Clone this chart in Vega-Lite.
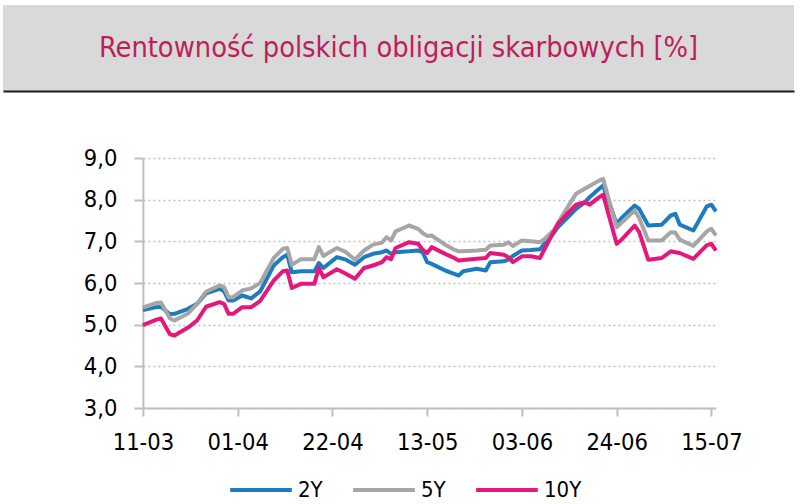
{
  "$schema": "https://vega.github.io/schema/vega-lite/v6.json",
  "padding": {"left": 3, "top": 5, "right": 5, "bottom": 5},
  "background": "white",
  "spacing": 55,
  "center": true,
  "config": {
    "view": {"stroke": null},
    "font": "DejaVu Sans Condensed",
    "legend": {"layout": {"bottom": {"anchor": "middle"}}}
  },
  "datasets": {
    "title": [{"t": "Rentowność polskich obligacji skarbowych [%]"}],
    "yields": [
      {"d": "2022-03-11", "2Y": 5.35, "5Y": 5.41, "10Y": 4.99},
      {"d": "2022-03-14", "2Y": 5.42, "5Y": 5.52, "10Y": 5.12},
      {"d": "2022-03-15", "2Y": 5.43, "5Y": 5.53, "10Y": 5.15},
      {"d": "2022-03-17", "2Y": 5.25, "5Y": 5.15, "10Y": 4.77},
      {"d": "2022-03-18", "2Y": 5.26, "5Y": 5.10, "10Y": 4.74},
      {"d": "2022-03-21", "2Y": 5.38, "5Y": 5.27, "10Y": 4.93},
      {"d": "2022-03-23", "2Y": 5.50, "5Y": 5.50, "10Y": 5.10},
      {"d": "2022-03-25", "2Y": 5.75, "5Y": 5.79, "10Y": 5.43},
      {"d": "2022-03-28", "2Y": 5.86, "5Y": 5.94, "10Y": 5.54},
      {"d": "2022-03-29", "2Y": 5.80, "5Y": 5.90, "10Y": 5.50},
      {"d": "2022-03-30", "2Y": 5.58, "5Y": 5.66, "10Y": 5.26},
      {"d": "2022-03-31", "2Y": 5.58, "5Y": 5.66, "10Y": 5.26},
      {"d": "2022-04-02", "2Y": 5.70, "5Y": 5.82, "10Y": 5.42},
      {"d": "2022-04-04", "2Y": 5.63, "5Y": 5.87, "10Y": 5.42},
      {"d": "2022-04-06", "2Y": 5.80, "5Y": 6.00, "10Y": 5.57},
      {"d": "2022-04-09", "2Y": 6.42, "5Y": 6.60, "10Y": 6.06},
      {"d": "2022-04-11", "2Y": 6.62, "5Y": 6.82, "10Y": 6.28},
      {"d": "2022-04-12", "2Y": 6.68, "5Y": 6.84, "10Y": 6.30},
      {"d": "2022-04-13", "2Y": 6.26, "5Y": 6.44, "10Y": 5.88},
      {"d": "2022-04-15", "2Y": 6.28, "5Y": 6.57, "10Y": 5.98},
      {"d": "2022-04-18", "2Y": 6.28, "5Y": 6.57, "10Y": 5.98},
      {"d": "2022-04-19", "2Y": 6.48, "5Y": 6.86, "10Y": 6.36},
      {"d": "2022-04-20", "2Y": 6.36, "5Y": 6.65, "10Y": 6.14},
      {"d": "2022-04-23", "2Y": 6.62, "5Y": 6.84, "10Y": 6.33},
      {"d": "2022-04-25", "2Y": 6.56, "5Y": 6.74, "10Y": 6.22},
      {"d": "2022-04-27", "2Y": 6.44, "5Y": 6.56, "10Y": 6.10},
      {"d": "2022-04-29", "2Y": 6.62, "5Y": 6.78, "10Y": 6.36},
      {"d": "2022-05-01", "2Y": 6.70, "5Y": 6.92, "10Y": 6.42},
      {"d": "2022-05-03", "2Y": 6.74, "5Y": 6.97, "10Y": 6.50},
      {"d": "2022-05-04", "2Y": 6.78, "5Y": 7.10, "10Y": 6.62},
      {"d": "2022-05-05", "2Y": 6.70, "5Y": 7.02, "10Y": 6.57},
      {"d": "2022-05-06", "2Y": 6.74, "5Y": 7.24, "10Y": 6.84},
      {"d": "2022-05-09", "2Y": 6.76, "5Y": 7.38, "10Y": 6.98},
      {"d": "2022-05-11", "2Y": 6.78, "5Y": 7.30, "10Y": 6.94},
      {"d": "2022-05-12", "2Y": 6.74, "5Y": 7.20, "10Y": 6.80},
      {"d": "2022-05-13", "2Y": 6.50, "5Y": 7.13, "10Y": 6.72},
      {"d": "2022-05-14", "2Y": 6.46, "5Y": 7.14, "10Y": 6.86},
      {"d": "2022-05-17", "2Y": 6.30, "5Y": 6.92, "10Y": 6.70},
      {"d": "2022-05-19", "2Y": 6.22, "5Y": 6.80, "10Y": 6.60},
      {"d": "2022-05-20", "2Y": 6.18, "5Y": 6.76, "10Y": 6.54},
      {"d": "2022-05-21", "2Y": 6.28, "5Y": 6.76, "10Y": 6.55},
      {"d": "2022-05-24", "2Y": 6.34, "5Y": 6.78, "10Y": 6.58},
      {"d": "2022-05-26", "2Y": 6.30, "5Y": 6.80, "10Y": 6.60},
      {"d": "2022-05-27", "2Y": 6.50, "5Y": 6.90, "10Y": 6.72},
      {"d": "2022-05-30", "2Y": 6.52, "5Y": 6.92, "10Y": 6.68},
      {"d": "2022-05-31", "2Y": 6.56, "5Y": 6.98, "10Y": 6.62},
      {"d": "2022-06-01", "2Y": 6.65, "5Y": 6.89, "10Y": 6.50},
      {"d": "2022-06-03", "2Y": 6.78, "5Y": 7.02, "10Y": 6.64},
      {"d": "2022-06-05", "2Y": 6.79, "5Y": 7.00, "10Y": 6.64},
      {"d": "2022-06-07", "2Y": 6.81, "5Y": 6.98, "10Y": 6.60},
      {"d": "2022-06-08", "2Y": 6.94, "5Y": 7.05, "10Y": 6.81},
      {"d": "2022-06-10", "2Y": 7.19, "5Y": 7.26, "10Y": 7.22},
      {"d": "2022-06-11", "2Y": 7.34, "5Y": 7.44, "10Y": 7.42},
      {"d": "2022-06-13", "2Y": 7.56, "5Y": 7.80, "10Y": 7.66},
      {"d": "2022-06-15", "2Y": 7.78, "5Y": 8.14, "10Y": 7.88},
      {"d": "2022-06-17", "2Y": 7.94, "5Y": 8.27, "10Y": 7.94},
      {"d": "2022-06-18", "2Y": 8.06, "5Y": 8.33, "10Y": 7.88},
      {"d": "2022-06-20", "2Y": 8.25, "5Y": 8.45, "10Y": 8.05},
      {"d": "2022-06-21", "2Y": 8.34, "5Y": 8.50, "10Y": 8.12},
      {"d": "2022-06-24", "2Y": 7.42, "5Y": 7.34, "10Y": 6.94},
      {"d": "2022-06-25", "2Y": 7.55, "5Y": 7.44, "10Y": 7.03},
      {"d": "2022-06-28", "2Y": 7.86, "5Y": 7.74, "10Y": 7.38},
      {"d": "2022-06-29", "2Y": 7.78, "5Y": 7.56, "10Y": 7.22},
      {"d": "2022-07-01", "2Y": 7.38, "5Y": 7.02, "10Y": 6.56},
      {"d": "2022-07-04", "2Y": 7.40, "5Y": 7.02, "10Y": 6.60},
      {"d": "2022-07-06", "2Y": 7.62, "5Y": 7.22, "10Y": 6.76},
      {"d": "2022-07-07", "2Y": 7.66, "5Y": 7.21, "10Y": 6.74},
      {"d": "2022-07-08", "2Y": 7.40, "5Y": 7.04, "10Y": 6.72},
      {"d": "2022-07-11", "2Y": 7.26, "5Y": 6.89, "10Y": 6.58},
      {"d": "2022-07-14", "2Y": 7.84, "5Y": 7.24, "10Y": 6.91},
      {"d": "2022-07-15", "2Y": 7.88, "5Y": 7.30, "10Y": 6.94},
      {"d": "2022-07-16", "2Y": 7.72, "5Y": 7.14, "10Y": 6.78}
    ]
  },
  "vconcat": [
    {
      "width": 791,
      "height": 86,
      "data": {"name": "title"},
      "view": {"fill": "#d9d9d9", "stroke": null},
      "mark": {"type": "text", "font": "DejaVu Sans Condensed", "fontSize": 28.7, "color": "#be1e5a"},
      "encoding": {
        "x": {"field": "t", "type": "nominal", "axis": {"labels": false, "ticks": false, "title": null, "grid": false, "domainColor": "#1a1a1a", "domainWidth": 2}},
        "y": {"field": "t", "type": "nominal", "axis": {"orient": "right", "labels": false, "ticks": false, "domain": false, "title": null, "grid": false, "minExtent": 88}},
        "text": {"field": "t"}
      }
    },
    {
      "width": 573,
      "height": 250,
      "data": {"name": "yields"},
      "transform": [{"fold": ["2Y", "5Y", "10Y"], "as": ["s", "v"]}],
      "mark": {"type": "line", "strokeWidth": 4, "strokeJoin": "round"},
      "encoding": {
        "x": {
          "field": "d",
          "type": "temporal",
          "scale": {"type": "utc", "domain": [{"year": 2022, "month": 3, "date": 11, "utc": true}, {"year": 2022, "month": 7, "date": 16, "utc": true}]},
          "axis": {
            "title": null,
            "grid": false,
            "format": "%d-%m",
            "values": [
              {"year": 2022, "month": 3, "date": 11, "utc": true},
              {"year": 2022, "month": 4, "date": 1, "utc": true},
              {"year": 2022, "month": 4, "date": 22, "utc": true},
              {"year": 2022, "month": 5, "date": 13, "utc": true},
              {"year": 2022, "month": 6, "date": 3, "utc": true},
              {"year": 2022, "month": 6, "date": 24, "utc": true},
              {"year": 2022, "month": 7, "date": 15, "utc": true}
            ],
            "domainColor": "#bfbfbf",
            "domainWidth": 2,
            "tickColor": "#bfbfbf",
            "tickWidth": 2,
            "tickSize": 8,
            "labelFontSize": 23.5,
            "labelColor": "#000000",
            "labelPadding": 14,
            "labelFlush": false,
            "labelOverlap": false
          }
        },
        "y": {
          "field": "v",
          "type": "quantitative",
          "scale": {"domain": [3, 9], "nice": false, "zero": false},
          "axis": {
            "title": null,
            "values": [3, 4, 5, 6, 7, 8, 9],
            "labelExpr": "replace(format(datum.value, '.1f'), '.', ',')",
            "domainColor": "#bfbfbf",
            "domainWidth": 2,
            "tickColor": "#bfbfbf",
            "tickWidth": 2,
            "tickSize": 9,
            "labelFontSize": 23.5,
            "labelColor": "#000000",
            "labelPadding": 17,
            "gridColor": "#bfbfbf",
            "gridDash": [2, 3],
            "gridWidth": 1.5,
            "minExtent": 86
          }
        },
        "color": {
          "field": "s",
          "type": "nominal",
          "sort": ["2Y", "5Y", "10Y"],
          "scale": {"domain": ["2Y", "5Y", "10Y"], "range": ["#1f7bbf", "#a6a6a6", "#e5177b"]},
          "legend": {
            "orient": "bottom",
            "direction": "horizontal",
            "title": "\u00a0",
            "titleOrient": "right",
            "titleFontSize": 1,
            "titlePadding": 77,
            "symbolType": "stroke",
            "symbolSize": 3800,
            "symbolStrokeWidth": 4,
            "labelFontSize": 22,
            "labelColor": "#000000",
            "labelOffset": 4,
            "columnPadding": 22,
            "offset": 3
          }
        }
      }
    }
  ]
}
